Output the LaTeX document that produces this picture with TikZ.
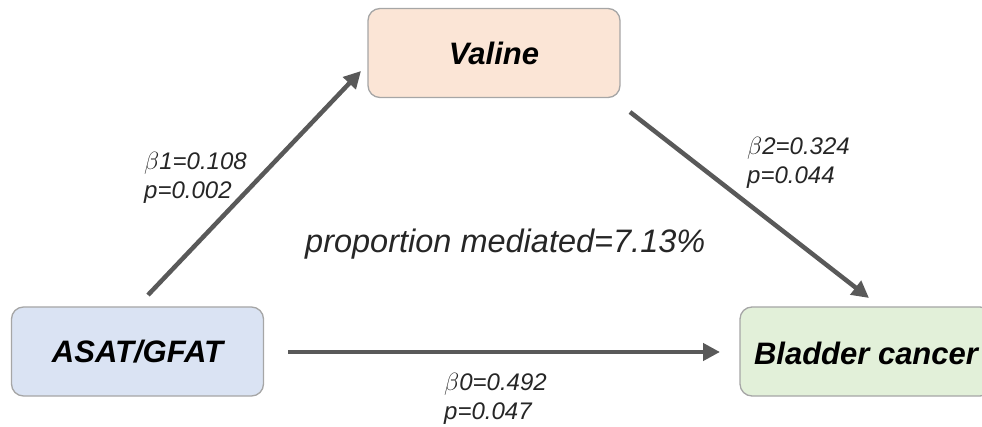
\documentclass[tikz,border=0pt]{standalone}
\usepackage{fontspec}
\setmainfont{Liberation Sans}
\usetikzlibrary{arrows.meta}
\definecolor{valfill}{HTML}{FBE5D6}
\definecolor{asatfill}{HTML}{DAE3F3}
\definecolor{bladfill}{HTML}{E2F0D9}
\definecolor{boxline}{HTML}{A6A6A6}
\definecolor{arr}{HTML}{595959}
\definecolor{lbl}{HTML}{262626}
\begin{document}
\begin{tikzpicture}[x=1pt,y=-1pt,
  box/.style={draw=boxline, line width=1.3pt, rounded corners=12pt, minimum width=252pt, minimum height=89pt, inner sep=0pt, font=\fontsize{31}{36}\selectfont\bfseries\itshape},
  conn/.style={draw=arr, line width=4.5pt, -{Triangle[length=17pt,width=17pt]}},
  lab/.style={text=lbl, font=\fontsize{24}{29}\selectfont\itshape, align=left, inner sep=0pt}]
\useasboundingbox (0,0) rectangle (982,427);
\node[box, fill=valfill] (val) at (494,53) {Valine};
\node[box, fill=asatfill] (asat) at (137.5,351.5) {ASAT/GFAT};
\node[box, fill=bladfill] (blad) at (866,351.5) {};
\node[font=\fontsize{31}{36}\selectfont\bfseries\itshape, inner sep=0pt] (bladtxt) at (866,353) {Bladder cancer};
\coordinate (s1) at (148,295);
\coordinate (e1) at (361,71);
\coordinate (s2) at (630,112);
\coordinate (e2) at (869,298);
\coordinate (s3) at (288,352);
\coordinate (e3) at (720,352);
\draw[conn] (s1) -- (e1);
\draw[conn] (s2) -- (e2);
\draw[conn] (s3) -- (e3);
\node[lab, anchor=north west] (l1) at (144,152) {$\beta$1=0.108\\p=0.002};
\node[lab, anchor=north west] (l2) at (747,137) {$\beta$2=0.324\\p=0.044};
\node[lab, anchor=north west] (l0) at (444,373) {$\beta$0=0.492\\p=0.047};
\node[lab, anchor=west, font=\fontsize{32.5}{36}\selectfont\itshape] (pm) at (305,244) {proportion mediated=7.13\%};
\end{tikzpicture}
\end{document}
